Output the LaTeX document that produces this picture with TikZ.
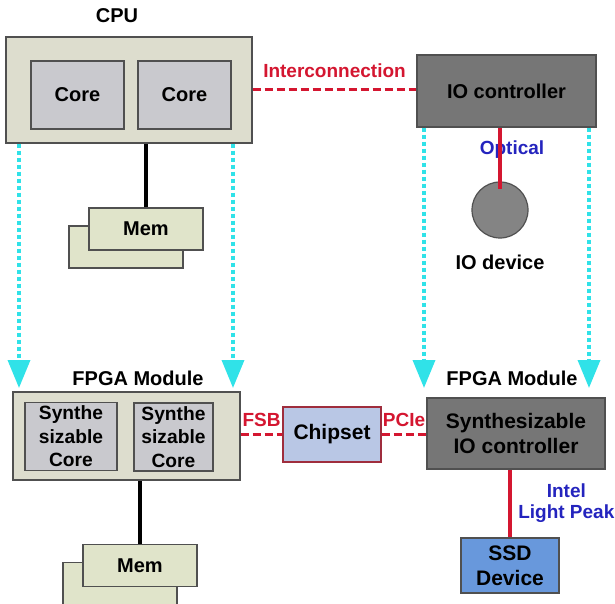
\documentclass[tikz,border=0pt]{standalone}
\usepackage{fontspec}
\setmainfont{Liberation Sans}
\usetikzlibrary{positioning}
\usetikzlibrary{arrows.meta}
\usepackage{xcolor}
\definecolor{boardfill}{RGB}{221,221,206}
\definecolor{corefill}{RGB}{201,201,206}
\definecolor{memfill}{RGB}{224,228,202}
\definecolor{ctrlfill}{RGB}{118,118,118}
\definecolor{chipfill}{RGB}{185,199,229}
\definecolor{ssdfill}{RGB}{104,152,220}
\definecolor{linkred}{RGB}{212,22,48}
\definecolor{labelblue}{RGB}{36,36,190}
\definecolor{mapcyan}{RGB}{48,226,232}
\definecolor{edgegray}{RGB}{80,80,80}

\begin{document}
\begin{tikzpicture}[x=0.5pt, y=-0.5pt, font=\bfseries,
    box/.style={draw=edgegray, line width=0.6pt, rectangle, align=center, inner sep=0pt},
    board/.style={box, fill=boardfill},
    core/.style={box, fill=corefill, minimum height=34pt},
    mem/.style={box, fill=memfill, minimum width=57pt, minimum height=21pt},
    ctrl/.style={box, fill=ctrlfill},
    bus/.style={linkred, line width=1.5pt, dash pattern=on 4pt off 2pt},
    wire/.style={line width=1.6pt},
    map/.style={mapcyan, line width=1.8pt, dash pattern=on 2pt off 1.5pt, -{Triangle[width=11pt,length=14pt]}},
    tag/.style={font=\bfseries\fontsize{9.5}{10.5}\selectfont}]
            \useasboundingbox (0,0) rectangle (615,604);

            % CPU with its memory
            \node (cpulabel) at (117,16) {CPU};
            \node[board, minimum width=123pt, minimum height=53pt] (cpu) at (129,90) {};
            \node[core, minimum width=46.5pt] (coreA) at (77.5,95) {Core};
            \node[core, minimum width=46.5pt] (coreB) at (184.5,95) {Core};
            \node[mem] (memAback) at (126,247) {};
            \node[mem] (memA) at (146,229) {Mem};
            \draw[wire] (memA.north) -- (memA.north |- cpu.south);

            % IO controller and device
            \node[ctrl, minimum width=89.5pt, minimum height=36pt] (ioctrl) at (506.5,91) {IO controller};
            \node[circle, draw=edgegray, line width=0.6pt, fill=ctrlfill!90!white, minimum size=28pt, inner sep=0pt] (iodev) at (500,210) {};
            \node (iodevlabel) at (500,262) {IO device};
            \node[tag, text=labelblue] (optical) at (512,150) {Optical};
            \draw[wire, linkred, shorten >=-4pt] (ioctrl.south -| iodev.north) -- (iodev.north);
            \draw[bus] (cpu.east) -- node[above=2pt, tag, text=linkred] {Interconnection} (cpu.east -| ioctrl.west);

            % FPGA modules
            \node (fpgalabelA) at (138,378) {FPGA Module};
            \node[board, minimum width=113.5pt, minimum height=44pt] (fpgaA) at (126.5,436) {};
            \node[core, minimum width=46pt, font=\bfseries\fontsize{9.6}{11.7}\selectfont] (synA) at (71,436.5) {Synthe\\sizable\\Core};
            \node[core, minimum width=39.5pt, font=\bfseries\fontsize{9.6}{11.7}\selectfont] (synB) at (173.5,437) {Synthe\\sizable\\Core};
            \node[mem] (memBback) at (120,583.5) {};
            \node[mem] (memB) at (140,565.5) {Mem};
            \draw[wire] (memB.north) -- (memB.north |- fpgaA.south);

            \node[box, draw=linkred!60!edgegray, fill=chipfill, minimum width=49pt, minimum height=27.5pt, font=\bfseries\fontsize{10.5}{12}\selectfont] (chipset) at (332,434.5) {Chipset};
            \node (fpgalabelB) at (512,378) {FPGA Module};
            \node[ctrl, minimum width=89pt, minimum height=35.5pt, font=\bfseries\fontsize{10.5}{12.5}\selectfont] (sio) at (516,433.5) {Synthesizable\\IO controller};
            \node[box, fill=ssdfill, minimum width=49pt, minimum height=27.5pt, font=\bfseries\fontsize{10.5}{12.5}\selectfont] (ssd) at (510,565.5) {SSD\\Device};

            \draw[bus] (chipset.west -| fpgaA.east) -- node[above, tag, text=linkred] {FSB} (chipset.west);
            \draw[bus] (chipset.east) -- node[above, tag, text=linkred] {PCIe} (chipset.east -| sio.west);
            \draw[wire, linkred] (sio.south -| ssd.north) -- node[right, tag, text=labelblue, align=center] {Intel\\Light Peak} (ssd.north);

            % mapping onto the FPGA modules
            \coordinate (tipA) at (19,388);
            \coordinate (tipB) at (233,388);
            \coordinate (tipC) at (424,388);
            \coordinate (tipD) at (589,388);
            \draw[map] (cpu.south -| tipA) -- (tipA);
            \draw[map] (cpu.south -| tipB) -- (tipB);
            \draw[map] (ioctrl.south -| tipC) -- (tipC);
            \draw[map] (ioctrl.south -| tipD) -- (tipD);
        \end{tikzpicture}
\end{document}
